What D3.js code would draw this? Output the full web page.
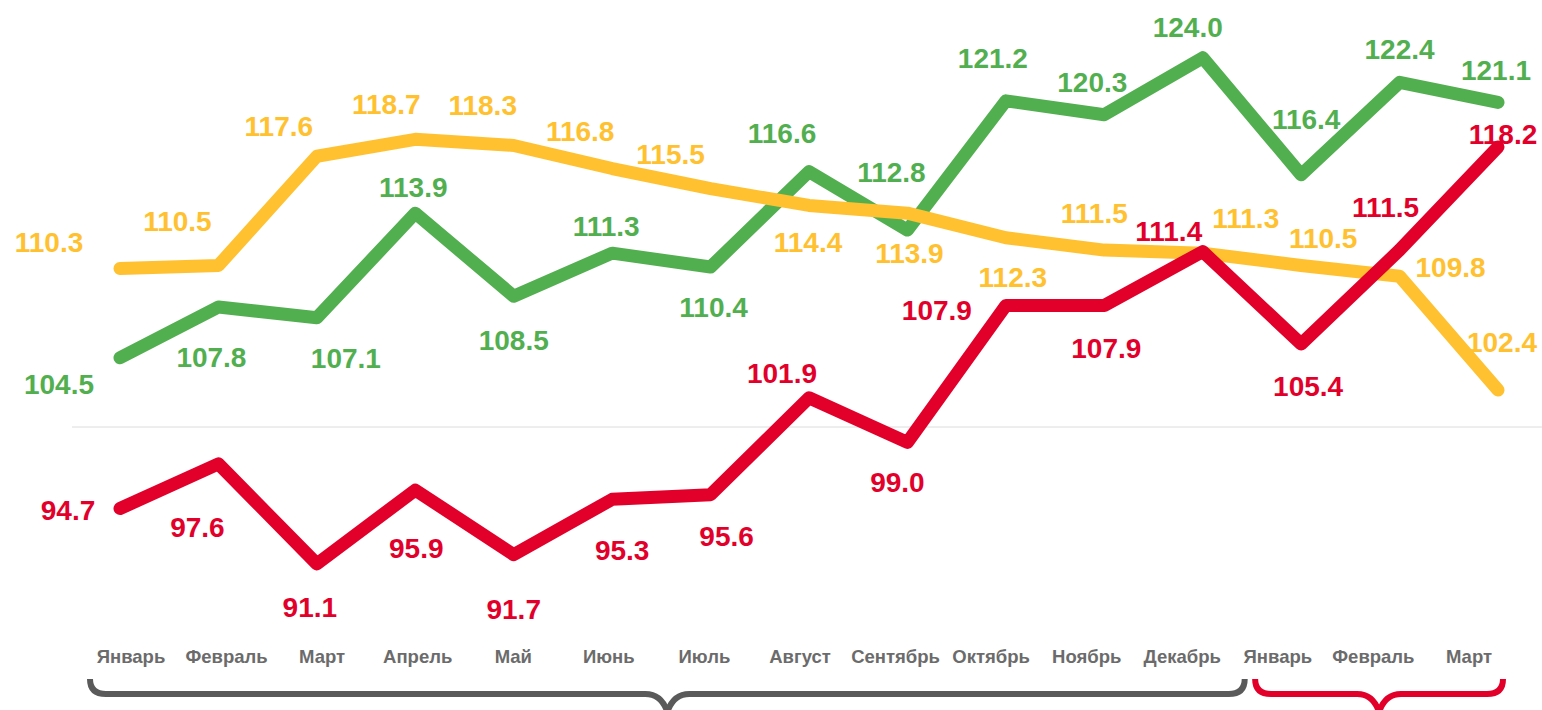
<!DOCTYPE html>
<html>
<head>
<meta charset="utf-8">
<script src="https://cdn.jsdelivr.net/npm/d3@7"></script>
<style>
  body { margin: 0; background: #fff; }
  svg { display: block; }
</style>
</head>
<body>
<script>
// data
var months = ["Январь", "Февраль", "Март", "Апрель", "Май", "Июнь", "Июль", "Август",
              "Сентябрь", "Октябрь", "Ноябрь", "Декабрь", "Январь", "Февраль", "Март"];
var greenValues  = [104.5, 107.8, 107.1, 113.9, 108.5, 111.3, 110.4, 116.6, 112.8, 121.2, 120.3, 124.0, 116.4, 122.4, 121.1];
var yellowValues = [110.3, 110.5, 117.6, 118.7, 118.3, 116.8, 115.5, 114.4, 113.9, 112.3, 111.5, 111.3, 110.5, 109.8, 102.4];
var redValues    = [94.7, 97.6, 91.1, 95.9, 91.7, 95.3, 95.6, 101.9, 99.0, 107.9, 107.9, 111.4, 105.4, 111.5, 118.2];

// label placement (offset of label centre from its point)
var greenLabelPos  = [[-61,26],[-7,50],[29,40],[-2,-26],[0,44],[-6,-27],[3,40],[-27,-39],[-16,-58],[-13,-43],[-12,-33],[-15,-31],[5,-56],[0,-33],[-2,-32]];
var yellowLabelPos = [[-71,-27],[-41,-44],[-38,-30],[-29,-35],[-31,-40],[-32,-38],[-40,-35],[-1,37],[2,40],[7,39],[-10,-37],[43,-35],[22,-27],[51,-9],[4,-48]];
var redLabelPos    = [[-52,1],[-21,63],[-7,43],[1,58],[0,54],[10,51],[16,41],[-27,-25],[-10,40],[-69,5],[2,43],[-34,-21],[7,42],[-14,-43],[5,-13]];

var width = 1542, height = 710;
var svg = d3.select("body").append("svg").attr("width", width).attr("height", height);

var x = d3.scalePoint().domain(d3.range(months.length)).range([120, 1498]);
var xLabel = d3.scalePoint().domain(d3.range(months.length)).range([131, 1469]);
var y = d3.scaleLinear().domain([100, 118.2]).range([427, 147]);

//baseline at 100
svg.append("line")
  .attr("x1", 72).attr("x2", width)
  .attr("y1", y(100)).attr("y2", y(100))
  .attr("stroke", "#dcdcdc").attr("stroke-width", 1);

var series = [
  {name: "green",  values: greenValues,  pos: greenLabelPos,  color: "#52af50"},
  {name: "yellow", values: yellowValues, pos: yellowLabelPos, color: "#ffc12f"},
  {name: "red",    values: redValues,    pos: redLabelPos,    color: "#e2002b"}
];

var line = d3.line()
  .x(function(d, i) { return x(i); })
  .y(function(d) { return y(d); });

series.forEach(function(s) {
  svg.append("path")
    .attr("d", line(s.values))
    .attr("fill", "none")
    .attr("stroke", s.color)
    .attr("stroke-width", 13)
    .attr("stroke-linejoin", "round")
    .attr("stroke-linecap", "round");
});

series.forEach(function(s) {
  svg.selectAll("text.v" + s.name).data(s.values).enter().append("text")
    .attr("class", "v" + s.name)
    .attr("x", function(d, i) { return x(i) + s.pos[i][0]; })
    .attr("y", function(d, i) { return y(d) + s.pos[i][1] + 10; })
    .attr("text-anchor", "middle")
    .attr("font-family", "Liberation Sans, Arial, sans-serif")
    .attr("font-weight", "bold")
    .attr("font-size", "28px")
    .attr("fill", s.color)
    .text(function(d) { return d.toFixed(1); });
});

//month labels
svg.selectAll("text.month").data(months).enter().append("text")
  .attr("class", "month")
  .attr("x", function(d, i) { return xLabel(i); })
  .attr("y", 663)
  .attr("text-anchor", "middle")
  .attr("font-family", "Liberation Sans, Arial, sans-serif")
  .attr("font-weight", "bold")
  .attr("font-size", "18.5px")
  .attr("fill", "#6b6b6b")
  .text(function(d) { return d; });

//curly brackets under the year groups
function bracket(xs, xe, colour) {
  var xm = (xs + xe) / 2, top = 679, yl = 694;
  var p = d3.path();
  p.moveTo(xs, top);
  p.quadraticCurveTo(xs, yl, xs + 16, yl);
  p.lineTo(xm - 22, yl);
  p.quadraticCurveTo(xm - 6, yl, xm, yl + 18);
  p.quadraticCurveTo(xm + 6, yl, xm + 22, yl);
  p.lineTo(xe - 16, yl);
  p.quadraticCurveTo(xe, yl, xe, top);
  svg.append("path")
    .attr("d", p.toString())
    .attr("fill", "none")
    .attr("stroke", colour)
    .attr("stroke-width", 6)
    .attr("stroke-linejoin", "round");
}
bracket(x(0) - 30, x(11) + 42, "#5a5a5a");
bracket(x(12) - 46, x(14) + 5, "#e2002b");
</script>
</body>
</html>
